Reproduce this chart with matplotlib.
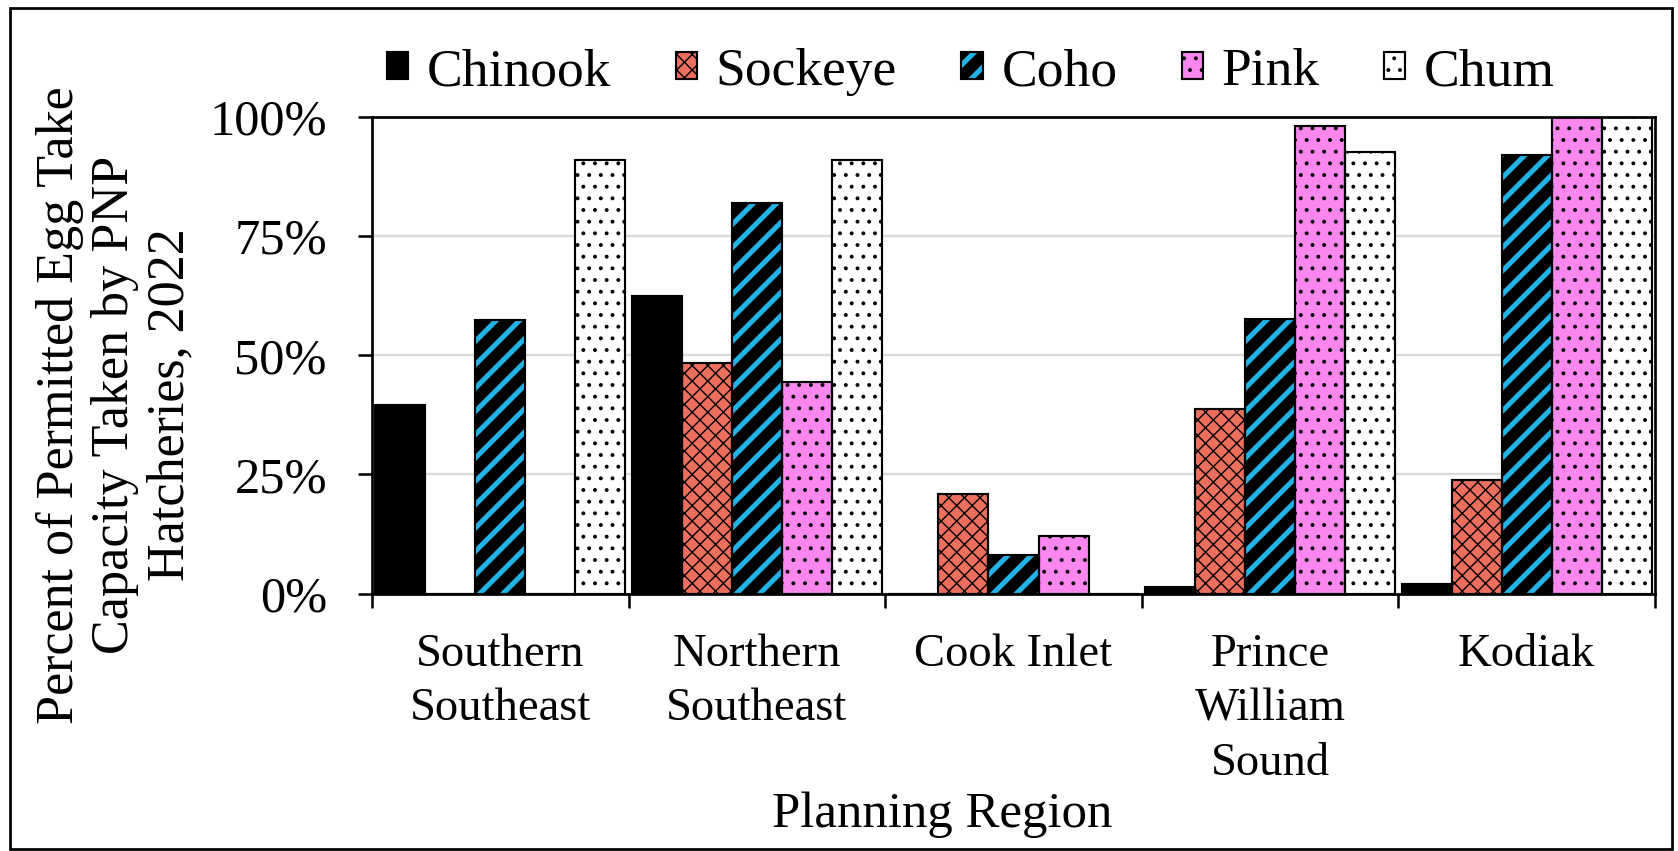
import matplotlib
matplotlib.use("Agg")
import matplotlib.pyplot as plt
from matplotlib.patches import Patch, Rectangle
from matplotlib.legend_handler import HandlerTuple
from matplotlib.colors import to_rgba
import numpy as np

plt.rcParams["font.family"] = ["Liberation Serif", "DejaVu Serif"]

# ---- data -------------------------------------------------------------
regions = ["Southern\nSoutheast", "Northern\nSoutheast", "Cook Inlet",
           "Prince\nWilliam\nSound", "Kodiak"]
species = ["Chinook", "Sockeye", "Coho", "Pink", "Chum"]

chinook = [39.5, 62.5, 0.0, 1.3, 2.0]
sockeye = [0.0, 48.4, 20.8, 38.8, 23.8]
coho = [57.5, 82.0, 8.0, 57.6, 92.0]
pink = [0.0, 44.3, 12.1, 98.1, 100.0]
chum = [91.0, 91.0, 0.0, 92.7, 100.0]

y_ticks = [0, 25, 50, 75, 100]
y_tick_labels = ["0%", "25%", "50%", "75%", "100%"]

series = [chinook, sockeye, coho, pink, chum]

# fill colour, hatch pattern, hatch colour, hatch line width (pt)
styles = {
    "Chinook": dict(face="black", hatch=None, hcolor="black", hlw=0.8),
    "Sockeye": dict(face="#EC6F5E", hatch="xxx", hcolor="black", hlw=0.7),
    "Coho": dict(face="black", hatch="//", hcolor="#22B2E6", hlw=2.6),
    "Pink": dict(face="#F987EE", hatch="..", hcolor="black", hlw=0.8),
    "Chum": dict(face="white", hatch="..", hcolor="black", hlw=0.8),
}


def set_hatch_width(patch, lw):
    if hasattr(patch, "set_hatch_linewidth"):
        patch.set_hatch_linewidth(lw)
    elif hasattr(patch, "_hatch_linewidth"):
        patch._hatch_linewidth = lw


DPI = 140
fig = plt.figure(figsize=(1679 / DPI, 851 / DPI), dpi=DPI)
ax = fig.add_axes([372 / 1679, 1 - 593.5 / 851,
                   (1655 - 372) / 1679, (593.5 - 117) / 851])

x = np.arange(len(regions))
w = 0.195

legend_handles = []
for i, (name, vals) in enumerate(zip(species, series)):
    st = styles[name]
    pos = x + (i - 2) * w
    with plt.rc_context({"hatch.linewidth": st["hlw"]}):
        fill = ax.bar(pos, vals, w, facecolor=st["face"],
                      edgecolor=st["hcolor"], hatch=st["hatch"],
                      linewidth=0, zorder=2)
        h_fill = Patch(facecolor=st["face"], edgecolor=st["hcolor"],
                       hatch=st["hatch"], linewidth=0)
    for p in list(fill) + [h_fill]:
        set_hatch_width(p, st["hlw"])
    ax.bar(pos, vals, w, fill=False, edgecolor="black", linewidth=1.1, zorder=3)

    h_edge = Patch(fill=False, edgecolor="black", linewidth=1.1)
    legend_handles.append((h_fill, h_edge))

ax.set_xlim(-0.5, len(regions) - 0.5)
ax.set_ylim(0, 100)

ax.set_yticks(y_ticks)
ax.set_yticklabels(y_tick_labels)
ax.tick_params(axis="y", length=7.2, width=1.3, pad=16, labelsize=26,
               direction="out")

ax.set_xticks(x)
ax.set_xticklabels(regions, linespacing=1.37)
ax.tick_params(axis="x", which="major", length=0, pad=20.5, labelsize=24)
ax.set_xticks(np.arange(-0.5, len(regions), 1), minor=True)
ax.tick_params(axis="x", which="minor", length=7.2, width=1.3, direction="out")

ax.yaxis.grid(True, color="#D9D9D9", linewidth=1.2)
ax.set_axisbelow(True)
for s in ax.spines.values():
    s.set_color("black")
    s.set_linewidth(1.4)
    s.set_zorder(4)

leg = fig.legend(legend_handles, species, loc="center",
                 bbox_to_anchor=(971 / 1679, 1 - 72 / 851), ncol=5,
                 frameon=False, fontsize=27.5, handlelength=0.4,
                 handleheight=0.4, handletextpad=0.35, columnspacing=1.2,
                 borderpad=0,
                 handler_map={tuple: HandlerTuple(ndivide=1, pad=0)})

# legend swatches get the same per-series hatch widths as the bars
width_by_hatch = {(st["hatch"], to_rgba(st["hcolor"])): st["hlw"]
                  for st in styles.values() if st["hatch"]}
for p in leg.findobj(Patch):
    key = (p.get_hatch(), to_rgba(p.get_edgecolor()))
    if key in width_by_hatch:
        set_hatch_width(p, width_by_hatch[key])

fig.text(115 / 1679, 1 - 405 / 851,
         "Percent of Permitted Egg Take\nCapacity Taken by PNP\nHatcheries, 2022",
         rotation=90, ha="center", va="center", multialignment="center",
         fontsize=26.8, linespacing=1.2)
fig.text(942 / 1679, 1 - 815 / 851, "Planning Region", ha="center",
         va="center", fontsize=26.2)

fig.patches.append(Rectangle((9.6 / 1679, 2 / 851), (1672 - 9.6) / 1679,
                             (846 - 5.4) / 851, transform=fig.transFigure,
                             fill=False, edgecolor="black", linewidth=1.4))

fig.savefig("out.png", dpi=DPI, facecolor="white")
